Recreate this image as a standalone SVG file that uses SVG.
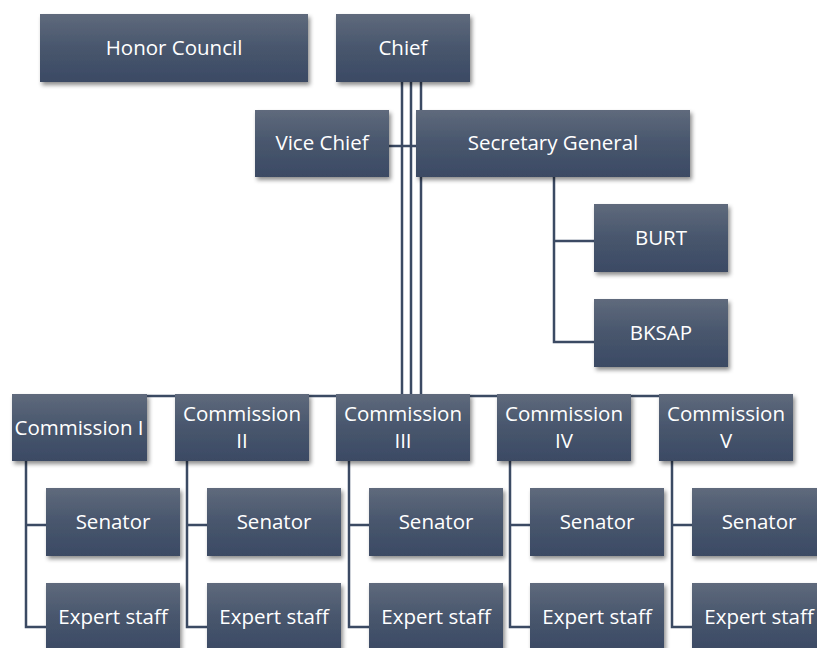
<svg xmlns="http://www.w3.org/2000/svg" width="817" height="648" viewBox="0 0 817 648">
<defs>
<linearGradient id="g" x1="0" y1="0" x2="0" y2="1">
<stop offset="0" stop-color="#5f6a7c"/>
<stop offset="0.5" stop-color="#48566d"/>
<stop offset="1" stop-color="#3b4a64"/>
</linearGradient>
<filter id="sh" x="-10%" y="-10%" width="130%" height="140%">
<feDropShadow dx="2" dy="3" stdDeviation="2" flood-color="#000" flood-opacity="0.45"/>
</filter>
<style>
.b{fill:url(#g);filter:url(#sh)}
.t{fill:#ffffff;font-family:"Open Sans","Noto Sans",sans-serif;font-size:20.5px;text-anchor:middle}
.c{fill:none;stroke:#3b4a63;stroke-width:2.5}
</style>
</defs>
<rect width="817" height="648" fill="#ffffff"/>
<g id="connectors">
<path class="c" d="M402 82V394M411 82V394M421 82V394"/>
<path class="c" d="M389 146H416"/>
<path class="c" d="M26 396H672"/>
<path class="c" d="M554 177V342H594M554 241H594"/>
<path class="c" d="M26 461V627H46M26 525H46"/>
<path class="c" d="M187 461V627H207M187 525H207"/>
<path class="c" d="M349 461V627H369M349 525H369"/>
<path class="c" d="M510 461V627H530M510 525H530"/>
<path class="c" d="M672 461V627H692M672 525H692"/>
</g>
<g id="honor"><rect class="b" x="40" y="14" width="268" height="68"/><text class="t" x="174" y="55">Honor Council</text></g>
<g id="chief"><rect class="b" x="336" y="14" width="134" height="68"/><text class="t" x="403" y="55">Chief</text></g>
<g id="vice"><rect class="b" x="255" y="110" width="134" height="67"/><text class="t" x="322" y="150">Vice Chief</text></g>
<g id="secgen"><rect class="b" x="416" y="110" width="274" height="67"/><text class="t" x="553" y="150">Secretary General</text></g>
<g id="burt"><rect class="b" x="594" y="204" width="134" height="68"/><text class="t" x="661" y="245">BURT</text></g>
<g id="bksap"><rect class="b" x="594" y="299" width="134" height="68"/><text class="t" x="661" y="340">BKSAP</text></g>
<g id="com1"><rect class="b" x="12" y="394" width="135" height="67"/><text class="t" x="79" y="435">Commission I</text></g>
<g id="com2"><rect class="b" x="175" y="394" width="134" height="67"/><text class="t" x="242" y="421">Commission</text><text class="t" x="242" y="448">II</text></g>
<g id="com3"><rect class="b" x="336" y="394" width="134" height="67"/><text class="t" x="403" y="421">Commission</text><text class="t" x="403" y="448">III</text></g>
<g id="com4"><rect class="b" x="497" y="394" width="134" height="67"/><text class="t" x="564" y="421">Commission</text><text class="t" x="564" y="448">IV</text></g>
<g id="com5"><rect class="b" x="659" y="394" width="134" height="67"/><text class="t" x="726" y="421">Commission</text><text class="t" x="726" y="448">V</text></g>
<g id="sen1"><rect class="b" x="46" y="488" width="134" height="68"/><text class="t" x="113" y="529">Senator</text></g>
<g id="sen2"><rect class="b" x="207" y="488" width="134" height="68"/><text class="t" x="274" y="529">Senator</text></g>
<g id="sen3"><rect class="b" x="369" y="488" width="134" height="68"/><text class="t" x="436" y="529">Senator</text></g>
<g id="sen4"><rect class="b" x="530" y="488" width="134" height="68"/><text class="t" x="597" y="529">Senator</text></g>
<g id="sen5"><rect class="b" x="692" y="488" width="134" height="68"/><text class="t" x="759" y="529">Senator</text></g>
<g id="exp1"><rect class="b" x="46" y="583" width="134" height="68"/><text class="t" x="113" y="624">Expert staff</text></g>
<g id="exp2"><rect class="b" x="207" y="583" width="134" height="68"/><text class="t" x="274" y="624">Expert staff</text></g>
<g id="exp3"><rect class="b" x="369" y="583" width="134" height="68"/><text class="t" x="436" y="624">Expert staff</text></g>
<g id="exp4"><rect class="b" x="530" y="583" width="134" height="68"/><text class="t" x="597" y="624">Expert staff</text></g>
<g id="exp5"><rect class="b" x="692" y="583" width="134" height="68"/><text class="t" x="759" y="624">Expert staff</text></g>
</svg>
